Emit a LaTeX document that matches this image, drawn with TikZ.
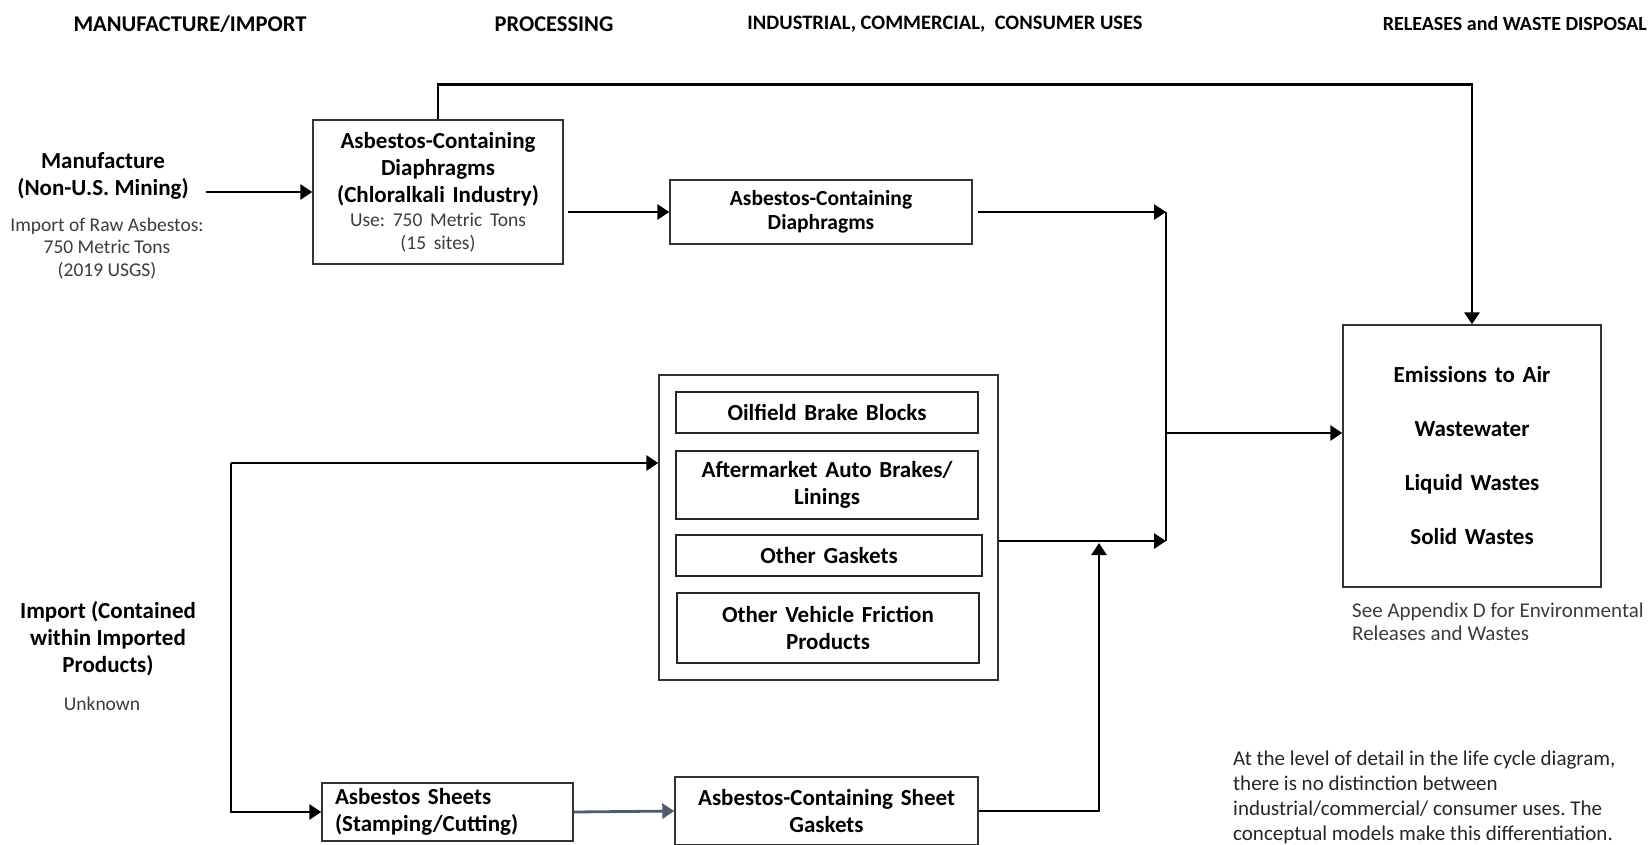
\documentclass[tikz,border=0pt]{standalone}
\usepackage{fontspec}
\setmainfont{Carlito}
\usetikzlibrary{arrows.meta,calc}
\definecolor{boxline}{HTML}{333333}
\definecolor{slate}{HTML}{4F5B6E}
\definecolor{note}{HTML}{3C3C3C}
\newcommand{\hdrfont}{\fontsize{22.5}{27}\selectfont\bfseries}
\newcommand{\hdrnarrow}{\fontsize{20.5}{25}\selectfont\bfseries}
\newcommand{\hdrsmall}{\fontsize{20}{24}\selectfont\bfseries}
\newcommand{\bigbold}{\fontsize{23}{27}\selectfont\bfseries}
\newcommand{\midbold}{\fontsize{21.5}{23.5}\selectfont\bfseries}
\newcommand{\smallreg}{\fontsize{19.5}{22.5}\selectfont}
\newcommand{\notereg}{\fontsize{21}{23}\selectfont}
\newcommand{\footreg}{\fontsize{21}{25}\selectfont}

\begin{document}
\frenchspacing
\begin{tikzpicture}[x=1pt,y=-1pt,
  hdr/.style={font=\hdrfont, inner sep=0pt},
  procbox/.style={draw=boxline, line width=1.4pt, inner sep=0pt, align=center, font=\bigbold},
  itembox/.style={draw=black!85, line width=1.8pt, inner sep=0pt, align=center, font=\bigbold, minimum width=302pt},
  plain/.style={inner sep=0pt, align=center},
  flow/.style={line width=2.8pt, -{Triangle[length=12pt,width=15pt]}},
  wire/.style={line width=2.8pt},
]
\fill[white] (0,0) rectangle (1650,844);
\useasboundingbox (0,0) rectangle (1650,844);

% column headings
\node[hdr] (h1) at (190,24) {MANUFACTURE/IMPORT};
\node[hdr] (h2) at (554,24) {PROCESSING};
\node[hdr, font=\hdrnarrow] (h3) at (945,24) {INDUSTRIAL, COMMERCIAL,\ \ CONSUMER USES};
\node[hdr, font=\hdrsmall, anchor=east] (h4) at (1647,24) {RELEASES and WASTE DISPOSAL};

% manufacture source
\node[plain, font=\bigbold] (mfg) at (103,175.5) {Manufacture\\(Non-U.S. Mining)};
\node[plain, font=\smallreg, text=note] (mfgq) at (107,248.5) {Import of Raw Asbestos:\\750 Metric Tons\\(2019 USGS)};

% processing of diaphragms
\node[procbox, minimum width=250pt, minimum height=144pt, text width=244pt] (dia) at (438,192)
  {Asbestos-Containing\\Diaphragms\\(Chloralkali Industry)\par\vspace{2pt}{\smallreg\mdseries\color{note}Use: 750 Metric Tons\\(15 sites)\par}};
\node[procbox, font=\midbold, minimum width=302pt, minimum height=64pt, text width=290pt] (dia2) at (821,212)
  {Asbestos-Containing\\Diaphragms};

% releases
\node[procbox, minimum width=258pt, minimum height=262pt, text width=250pt] (rel) at (1472,456)
  {Emissions to Air\\[27pt]Wastewater\\[27pt]Liquid Wastes\\[27pt]Solid Wastes};
\node[plain, font=\notereg, text=note, align=left, anchor=north west] (relnote) at (1352,603)
  {See Appendix D for Environmental\\Releases and Wastes};

% imported articles
\node[draw=boxline, line width=1.4pt, minimum width=339pt, minimum height=305pt, inner sep=0pt] (uses) at (828.5,527.5) {};
\node[itembox, minimum height=41pt, text width=296pt] (oil) at (827,412.5) {Oilfield Brake Blocks};
\node[itembox, minimum height=68pt, text width=296pt] (auto) at (827,485) {Aftermarket Auto Brakes/\\Linings};
\node[itembox, minimum width=306pt, minimum height=41pt, text width=300pt] (gask) at (829,555.5) {Other Gaskets};
\node[itembox, minimum height=70pt, text width=296pt] (veh) at (828,628) {Other Vehicle Friction\\Products};

\node[plain, font=\bigbold] (imp) at (108,639) {Import (Contained\\within Imported\\Products)};
\node[plain, font=\smallreg, text=note] (impq) at (102,704) {Unknown};

\node[procbox, minimum width=251pt, minimum height=58pt, text width=225pt, align=left] (sheets) at (447.5,812)
  {Asbestos Sheets\\(Stamping/Cutting)};
\node[procbox, minimum width=303pt, minimum height=68pt, text width=290pt] (sgask) at (826.5,811)
  {Asbestos-Containing Sheet\\Gaskets};

\node[plain, font=\footreg, color=black!85, align=left, anchor=north west] (lcnote) at (1233,751)
  {At the level of detail in the life cycle diagram,\\there is no distinction between\\industrial/commercial/ consumer uses. The\\conceptual models make this differentiation.};

% connectors
\coordinate (mtop) at (1166,212);
\coordinate (mmid) at (1166,433);
\coordinate (mbot) at (1166,541);
\coordinate (split) at (231,463);
\coordinate (gup) at (1099,543);

\draw[flow] ([xshift=17pt]mfg.east |- dia.west) -- (dia.west);
\draw[flow] ([xshift=4pt]dia.east |- dia2.west) -- (dia2.west);
\draw[flow] (dia.north) -- ++(0,-35) -| (rel.north);
\draw[wire] (mtop) -- (mbot);
\draw[flow] ([xshift=5pt]dia2.east) -- (mtop);
\draw[flow] (uses.east |- mbot) -- (mbot);
\draw[flow] (mmid) -- (mmid -| rel.west);
\draw[flow] (split) -- (split -| uses.west);
\draw[flow] (split) |- (sheets.west);
\draw[flow, draw=slate] (sheets.east) -- (sgask.west);
\draw[flow] (sgask.east) -| (gup);
\end{tikzpicture}
\end{document}
